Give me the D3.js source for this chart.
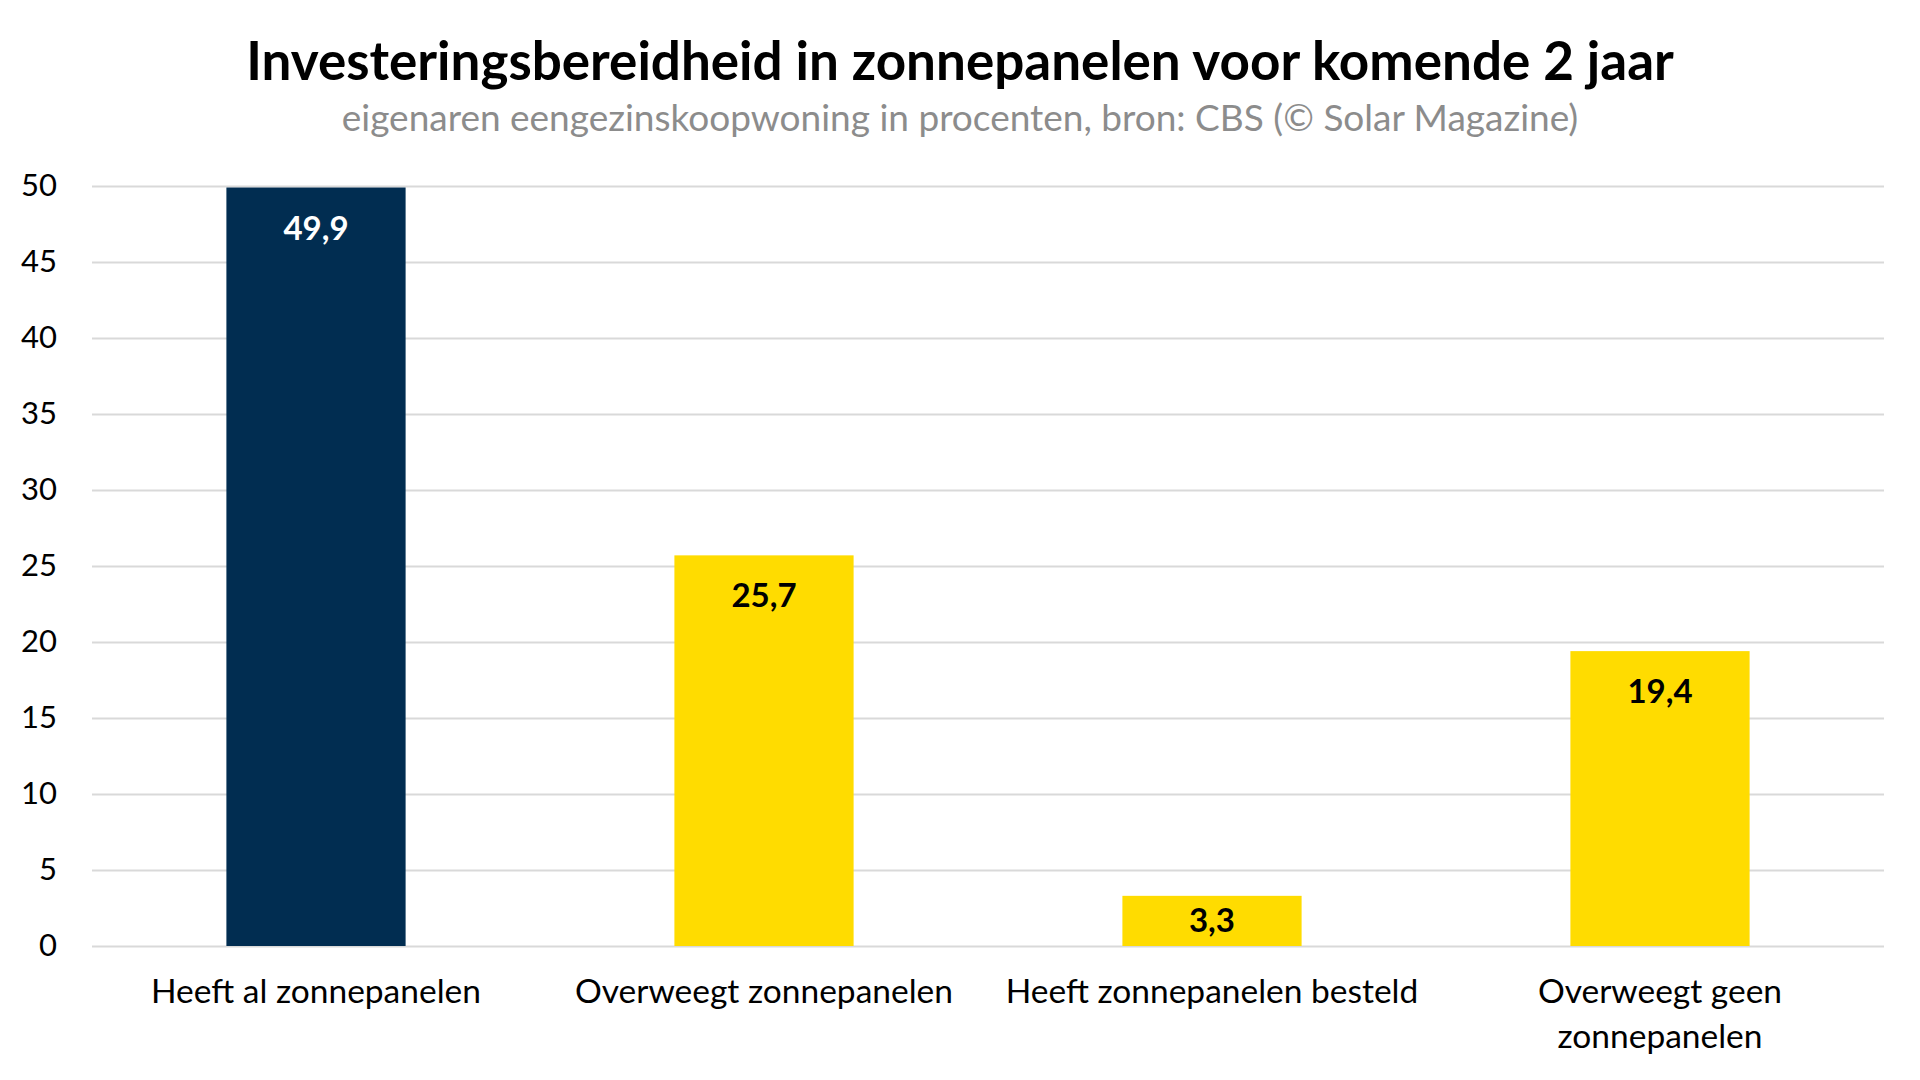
<!DOCTYPE html>
<html>
<head>
<meta charset="utf-8">
<script src="https://cdn.jsdelivr.net/npm/d3@7"></script>
<style>
  html, body { margin: 0; padding: 0; background: #fff; }
  svg { display: block; }
  text { font-family: "Lato", "Noto Sans", sans-serif; }
</style>
</head>
<body>
<script>
  // ************** data *****************
  const categories = [
    ["Heeft al zonnepanelen"],
    ["Overweegt zonnepanelen"],
    ["Heeft zonnepanelen besteld"],
    ["Overweegt geen", "zonnepanelen"]
  ];
  const values = [49.9, 25.7, 3.3, 19.4];
  const barColors = ["#012d51", "#ffdc00", "#ffdc00", "#ffdc00"];
  const labelColors = ["#ffffff", "#000000", "#000000", "#000000"];
  const yTicks = [0, 5, 10, 15, 20, 25, 30, 35, 40, 45, 50];

  const title = "Investeringsbereidheid in zonnepanelen voor komende 2 jaar";
  const subtitle = "eigenaren eengezinskoopwoning in procenten, bron: CBS (\u00A9 Solar Magazine)";

  let width = 1920;
  let height = 1080;
  let margin = {top: 186, right: 36, bottom: 134, left: 92};

  let svg = d3.select("body").append("svg")
    .attr("width", width)
    .attr("height", height);

  let x = d3.scaleBand()
    .domain(d3.range(categories.length))
    .range([margin.left, width - margin.right])
    .paddingInner(0.6)
    .paddingOuter(0.3);

  let y = d3.scaleLinear()
    .domain([0, 50])
    .range([height - margin.bottom, margin.top]);

  // titles
  svg.append("text")
    .attr("x", width / 2)
    .attr("y", 80)
    .attr("text-anchor", "middle")
    .style("font-size", "53px")
    .style("font-weight", "bold")
    .style("fill", "#000")
    .text(title);

  svg.append("text")
    .attr("x", width / 2)
    .attr("y", 131)
    .attr("text-anchor", "middle")
    .style("font-size", "37px")
    .style("fill", "#8c8c8c")
    .text(subtitle);

  // gridlines + y labels
  let yAxis = svg.append("g")
    .attr("transform", "translate(" + margin.left + ",0)")
    .call(d3.axisLeft(y)
      .tickValues(yTicks)
      .tickSize(-(width - margin.left - margin.right))
      .tickPadding(35)
      .tickFormat(d3.format("d")));

  yAxis.select(".domain").remove();
  yAxis.selectAll(".tick line")
    .attr("stroke", "#d9d9d9")
    .attr("stroke-width", 2);
  yAxis.selectAll(".tick text")
    .style("font-size", "31px")
    .style("font-family", "Lato, 'Noto Sans', sans-serif")
    .attr("fill", "#000");

  // bars
  svg.selectAll("rect.bar")
    .data(values)
    .enter().append("rect")
    .attr("class", "bar")
    .attr("x", (d, i) => x(i))
    .attr("y", d => y(d))
    .attr("width", x.bandwidth())
    .attr("height", d => y(0) - y(d))
    .attr("fill", (d, i) => barColors[i]);

  // value labels (inside end, centered if bar too short)
  svg.selectAll("text.value")
    .data(values)
    .enter().append("text")
    .attr("class", "value")
    .attr("x", (d, i) => x(i) + x.bandwidth() / 2)
    .attr("y", d => Math.min(y(d) + 52, (y(d) + y(0)) / 2 + 11))
    .attr("text-anchor", "middle")
    .style("font-size", "33px")
    .style("font-weight", "bold")
    .style("fill", (d, i) => labelColors[i])
    .text(d => d3.format(".1f")(d).replace(".", ","));

  // category labels
  let cat = svg.selectAll("text.cat")
    .data(categories)
    .enter().append("text")
    .attr("class", "cat")
    .attr("x", (d, i) => x(i) + x.bandwidth() / 2)
    .attr("y", 1003)
    .attr("text-anchor", "middle")
    .style("font-size", "33.5px")
    .style("fill", "#000");

  cat.selectAll("tspan")
    .data(d => d)
    .enter().append("tspan")
    .attr("x", function() { return d3.select(this.parentNode).attr("x"); })
    .attr("dy", (d, i) => i === 0 ? 0 : 45)
    .text(d => d);
</script>
</body>
</html>
